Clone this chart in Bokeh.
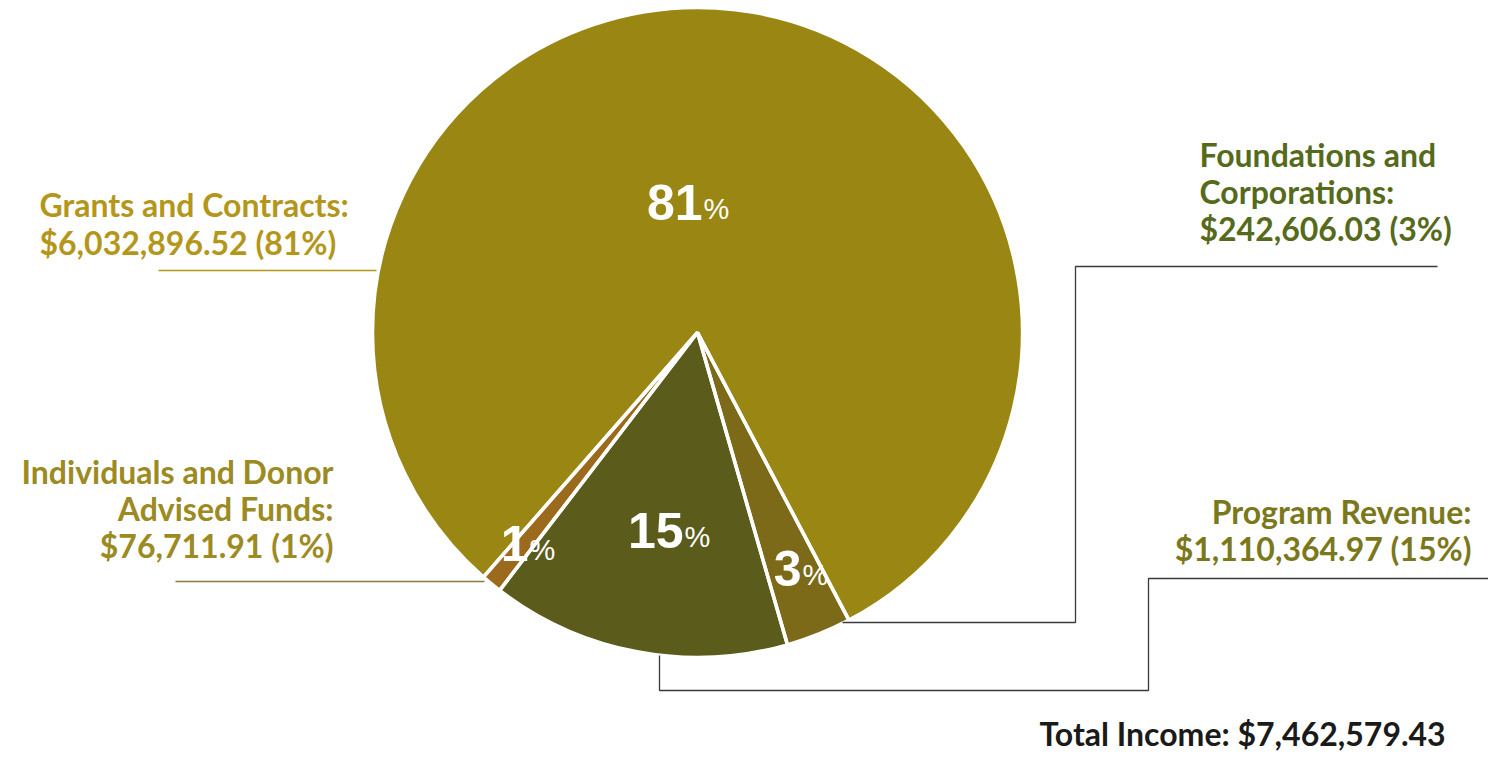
import math
from bokeh.plotting import figure
from bokeh.models import Range1d, ColumnDataSource
from bokeh.core.properties import value
from bokeh.embed import file_html
from bokeh.resources import INLINE

# ---- data ----
categories = ["Individuals and Donor Advised Funds", "Program Revenue",
              "Foundations and Corporations", "Grants and Contracts"]
amounts = [76711.91, 1110364.97, 242606.03, 6032896.52]
pct_labels = ["1", "15", "3", "81"]
slice_colors = ["#9c6a1c", "#5b5b1b", "#7c6a19", "#998613"]
total_label = "Total Income: $7,462,579.43"

W, H = 1488, 755
def X(x):
    return x
def Y(y):
    return H - y

# baseline -> em-box middle offsets (fraction of font size)
LATO_MID = 0.37
LIB_MID = 0.3465

p = figure(width=W, height=H, output_backend="svg", toolbar_location=None,
           x_range=Range1d(0, W), y_range=Range1d(0, H), min_border=0)
p.axis.visible = False
p.grid.visible = False
p.outline_line_color = None
p.background_fill_color = "white"

# wedges
total = sum(amounts)
start0 = math.radians(228.8)
starts, ends = [], []
a = start0
for v in amounts:
    starts.append(a)
    a += v / total * 2 * math.pi
    ends.append(a)
cx, cy, r = X(697), Y(332), 325
src = ColumnDataSource(dict(start=starts, end=ends, color=slice_colors, cat=categories))
p.wedge(x=cx, y=cy, radius=r, start_angle="start", end_angle="end",
        fill_color="color", line_color=None, source=src)

# percent labels
num_font = value("Liberation Sans")
pct_pos = {"81": (702, 219), "15": (683, 547), "3": (801, 585), "1": (528, 560)}
NUM_SIZE, PCT_SIZE = 50, 29
for lab in pct_labels:
    px, py = pct_pos[lab]
    p.text(x=[X(px)], y=[Y(py - LIB_MID * NUM_SIZE)], text=[lab], text_font=num_font,
           text_font_size=f"{NUM_SIZE}px", text_font_style="bold", text_color="white",
           text_align="right", text_baseline="middle")
    p.text(x=[X(px + 1)], y=[Y(py - LIB_MID * PCT_SIZE)], text=["%"], text_font=num_font,
           text_font_size=f"{PCT_SIZE}px", text_color="white", text_align="left",
           text_baseline="middle")

# white borders on top
p.wedge(x=cx, y=cy, radius=r, start_angle="start", end_angle="end",
        fill_alpha=0, line_color="white", line_width=3.5, source=src)

# leader lines
p.line([X(158), X(376)], [Y(270), Y(270)], line_color="#b39619", line_width=1.5)
p.line([X(175), X(484)], [Y(581), Y(581)], line_color="#8a7d3a", line_width=1.5)
p.line([X(842), X(1075), X(1075), X(1437)], [Y(622), Y(622), Y(266), Y(266)],
       line_color="#3a3a3a", line_width=1.3)
p.line([X(659), X(659), X(1148), X(1148), X(1488)], [Y(655), Y(690), Y(690), Y(578), Y(578)],
       line_color="#3a3a3a", line_width=1.3)

lab_font = value("Lato")
def label(lines, x, y0, dy, color, align, size=32):
    for i, t in enumerate(lines):
        base = y0 + i * dy
        p.text(x=[X(x)], y=[Y(base - LATO_MID * size)], text=[t], text_font=lab_font,
               text_font_size=f"{size}px", text_font_style="bold", text_color=color,
               text_align=align, text_baseline="middle")

label(["Grants and Contracts:", "$6,032,896.52 (81%)"], 39, 216, 38, "#b4961b", "left")
label(["Individuals and Donor", "Advised Funds:", "$76,711.91 (1%)"], 333, 483, 37, "#9c8a22", "right")
label(["Foundations and", "Corporations:", "$242,606.03 (3%)"], 1199, 166, 37, "#566a1c", "left")
label(["Program Revenue:", "$1,110,364.97 (15%)"], 1471, 523, 37, "#7b781c", "right")
label([total_label], 1039, 745, 37, "#1a1a1a", "left", size=32)

open("out.html", "w").write(file_html(p, INLINE))
